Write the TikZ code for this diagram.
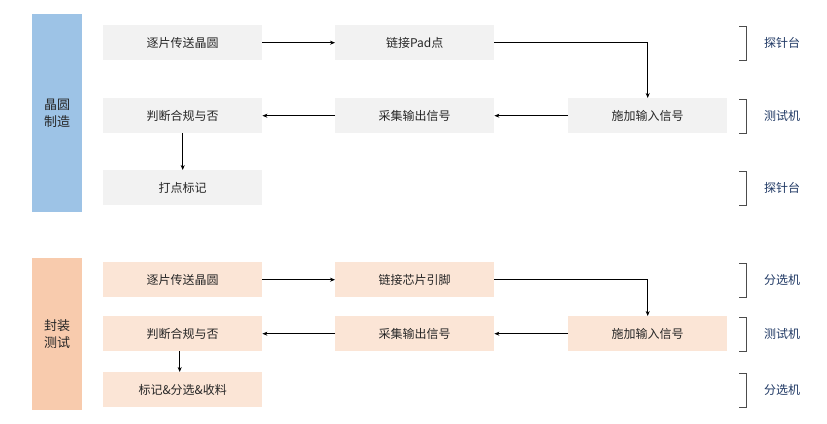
\documentclass[tikz,border=0pt]{standalone}
\usepackage{fontspec}
\newfontfamily\cjk{Noto Sans CJK SC}
\usetikzlibrary{arrows.meta}
\definecolor{gbox}{HTML}{F2F2F2}
\definecolor{pbox}{HTML}{FBE5D6}
\definecolor{bbar}{HTML}{9DC3E6}
\definecolor{pbar}{HTML}{F8CBAD}
\definecolor{lab}{HTML}{1F3864}
\tikzset{
 gb/.style={fill=gbox,draw=none,minimum width=159pt,minimum height=35pt,font=\cjk\fontsize{12}{14}\selectfont,text=black!85,anchor=north west},
 pb/.style={gb,fill=pbox},
 bar/.style={draw=none,minimum width=50pt,anchor=north west,font=\cjk\fontsize{13}{17}\selectfont,align=center,text=black!85},
 arr/.style={-{Stealth[length=5pt,width=4pt]},line width=0.6pt},
 rl/.style={font=\cjk\fontsize{12}{14}\selectfont,text=lab},
 brk/.style={line width=0.5pt,black!70}
}
\begin{document}
\begin{tikzpicture}[x=1pt,y=-1pt]
\useasboundingbox (0,0) rectangle (827,423);
\node[bar,fill=bbar,minimum height=198pt] (b1) at (32,14) {晶圆\\制造};
\node[bar,fill=pbar,minimum height=152pt] (b2) at (32,258) {封装\\测试};
% top
\node[gb] (a1) at (103,25) {逐片传送晶圆};
\node[gb] (a2) at (335,25) {链接Pad点};
\node[gb] (a3) at (103,98) {判断合规与否};
\node[gb] (a4) at (335,98) {采集输出信号};
\node[gb] (a5) at (568,98) {施加输入信号};
\node[gb] (a6) at (103,170) {打点标记};
\draw[arr] (a1) -- (a2);
\draw[arr] (a2.east) -| (a5.north);
\draw[arr] (a5) -- (a4);
\draw[arr] (a4) -- (a3);
\draw[arr] (a3.south) -- (a6.north);
% bottom
\node[pb] (c1) at (103,262) {逐片传送晶圆};
\node[pb] (c2) at (335,262) {链接芯片引脚};
\node[pb] (c3) at (103,316) {判断合规与否};
\node[pb] (c4) at (335,316) {采集输出信号};
\node[pb] (c5) at (568,316) {施加输入信号};
\node[pb] (c6) at (103,372) {标记\&分选\&收料};
\draw[arr] (c1) -- (c2);
\draw[arr] (c2.east) -| (c5.north);
\draw[arr] (c5) -- (c4);
\draw[arr] (c4) -- (c3);
\draw[arr] ([xshift=-3pt]c3.south) -- ([xshift=-3pt]c6.north);
% right labels
\foreach \y/\t [count=\i] in {43/探针台,116/测试机,188/探针台,280/分选机,334/测试机,390/分选机}{
  \draw[brk] (739,\y-17) -- (746,\y-17) -- (746,\y+17) -- (739,\y+17);
  \node[rl] (r\i) at (782,\y) {\t};
}
\end{tikzpicture}
\end{document}
